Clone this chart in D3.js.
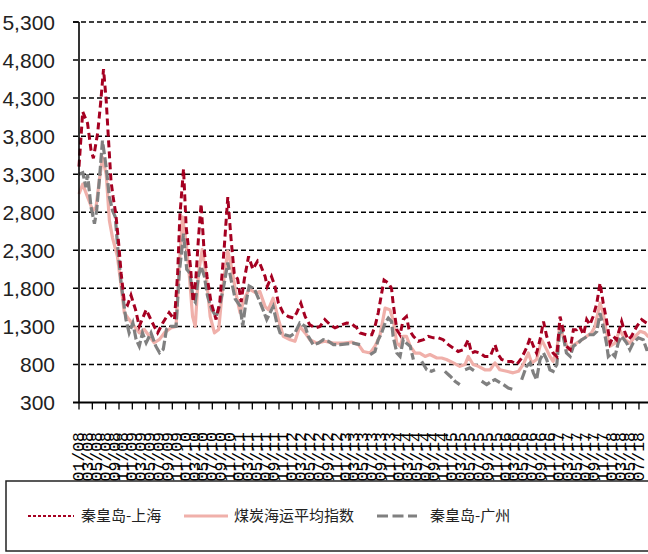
<!DOCTYPE html>
<meta charset="utf-8">
<style>
body { margin: 0; background: #fff; }
svg { display: block; }
</style>
<script src="https://d3js.org/d3.v7.min.js"></script>
<div id="chart"></div>
<script>
// y axis ticks
var yTicks = [300, 800, 1300, 1800, 2300, 2800, 3300, 3800, 4300, 4800, 5300];

// category labels, every two months (mm/yy)
var monthLabels = [
  "01/08","03/08","05/08","07/08","09/08","11/08",
  "01/09","03/09","05/09","07/09","09/09","11/09",
  "01/10","03/10","05/10","07/10","09/10","11/10",
  "01/11","03/11","05/11","07/11","09/11","11/11",
  "01/12","03/12","05/12","07/12","09/12","11/12",
  "01/13","03/13","05/13","07/13","09/13","11/13",
  "01/14","03/14","05/14","07/14","09/14","11/14",
  "01/15","03/15","05/15","07/15","09/15","11/15",
  "01/16","03/16","05/16","07/16","09/16","11/16",
  "01/17","03/17","05/17","07/17","09/17","11/17",
  "01/18","03/18","05/18","07/18"
];

var seriesNames = ["秦皇岛-上海", "煤炭海运平均指数", "秦皇岛-广州"];

// [year, value]
var shanghai = [
  [2008.00,3400],[2008.07,4120],[2008.16,3970],[2008.225,3620],[2008.27,3510],[2008.35,3840],
  [2008.41,4270],[2008.46,4680],[2008.51,4270],[2008.55,3790],[2008.60,3210],[2008.64,3000],
  [2008.69,2780],[2008.74,2420],[2008.79,2000],[2008.85,1620],[2008.91,1580],[2008.975,1710],
  [2009.06,1520],[2009.13,1300],[2009.26,1520],[2009.32,1430],[2009.41,1300],[2009.475,1215],
  [2009.57,1345],[2009.69,1480],[2009.79,1390],[2009.85,2000],[2009.89,2740],[2009.96,3370],
  [2010.01,2600],[2010.05,2350],[2010.09,2090],[2010.14,1620],[2010.19,1920],[2010.24,2460],
  [2010.29,2910],[2010.34,2350],[2010.40,1960],[2010.475,1620],[2010.57,1390],[2010.64,1620],
  [2010.725,2350],[2010.79,3000],[2010.85,2460],[2010.91,2000],[2010.975,1920],[2011.04,1620],
  [2011.10,1920],[2011.18,2220],[2011.26,2050],[2011.35,2160],[2011.39,2130],[2011.49,1955],
  [2011.53,1825],[2011.61,1955],[2011.675,1825],[2011.74,1605],[2011.83,1475],[2011.925,1430],
  [2012.02,1410],[2012.08,1475],[2012.16,1605],[2012.24,1430],[2012.33,1320],[2012.43,1280],
  [2012.52,1300],[2012.61,1390],[2012.71,1320],[2012.80,1280],[2012.925,1320],[2013.02,1345],
  [2013.11,1335],[2013.21,1280],[2013.27,1215],[2013.39,1190],[2013.49,1190],[2013.55,1300],
  [2013.61,1475],[2013.675,1735],[2013.72,1910],[2013.80,1870],[2013.86,1800],[2013.89,1605],
  [2013.96,1255],[2014.02,1190],[2014.08,1390],[2014.14,1430],[2014.19,1255],[2014.27,1170],
  [2014.36,1105],[2014.46,1125],[2014.55,1170],[2014.645,1150],[2014.74,1150],[2014.83,1125],
  [2014.925,1060],[2015.02,1015],[2015.11,970],[2015.21,995],[2015.30,1125],[2015.36,950],
  [2015.425,970],[2015.52,950],[2015.61,905],[2015.71,905],[2015.80,1060],[2015.86,930],
  [2015.925,865],[2016.02,840],[2016.11,840],[2016.21,800],[2016.30,885],[2016.39,1015],
  [2016.46,1150],[2016.52,1040],[2016.58,950],[2016.645,1125],[2016.71,1365],[2016.77,1170],
  [2016.83,1040],[2016.89,950],[2016.96,905],[2017.02,1430],[2017.08,1255],[2017.14,1040],
  [2017.21,995],[2017.27,1255],[2017.33,1255],[2017.39,1300],[2017.46,1190],[2017.52,1390],
  [2017.58,1320],[2017.64,1430],[2017.71,1605],[2017.77,1870],[2017.83,1605],[2017.89,1390],
  [2017.96,1080],[2018.02,1170],[2018.08,1125],[2018.175,1365],[2018.24,1215],[2018.30,1125],
  [2018.36,1170],[2018.46,1300],[2018.55,1390],[2018.64,1345],[2018.72,1310]
];

var average = [
  [2008.00,3040],[2008.07,3170],[2008.16,3000],[2008.26,2820],[2008.32,2870],[2008.38,3210],
  [2008.44,3520],[2008.51,3300],[2008.57,2690],[2008.63,2460],[2008.72,2220],[2008.79,1830],
  [2008.85,1480],[2008.94,1390],[2009.04,1300],[2009.13,1215],[2009.225,1260],[2009.32,1170],
  [2009.41,1085],[2009.51,1130],[2009.60,1215],[2009.72,1280],[2009.82,1300],[2009.88,2090],
  [2009.94,2740],[2010.01,2400],[2010.07,1960],[2010.13,1430],[2010.18,1300],[2010.24,2000],
  [2010.31,2310],[2010.38,2000],[2010.46,1430],[2010.54,1215],[2010.62,1260],[2010.69,1790],
  [2010.79,2290],[2010.87,2050],[2010.94,1740],[2011.02,1480],[2011.10,1660],[2011.19,1790],
  [2011.32,1740],[2011.39,1760],[2011.49,1560],[2011.55,1520],[2011.64,1670],[2011.74,1390],
  [2011.83,1170],[2011.96,1125],[2012.05,1105],[2012.14,1300],[2012.24,1215],[2012.33,1125],
  [2012.46,1080],[2012.61,1105],[2012.77,1080],[2012.96,1080],[2013.11,1095],[2013.24,1060],
  [2013.33,970],[2013.46,950],[2013.55,1040],[2013.64,1170],[2013.74,1540],[2013.83,1520],
  [2013.89,1390],[2013.96,1080],[2014.02,1040],[2014.08,1170],[2014.14,1170],[2014.21,1040],
  [2014.30,950],[2014.39,950],[2014.49,905],[2014.58,930],[2014.71,885],[2014.80,885],
  [2014.89,865],[2015.02,820],[2015.14,775],[2015.24,800],[2015.30,905],[2015.39,800],
  [2015.49,775],[2015.61,730],[2015.71,730],[2015.80,820],[2015.89,730],[2016.02,710],
  [2016.14,690],[2016.24,710],[2016.33,800],[2016.425,950],[2016.49,820],[2016.58,865],
  [2016.675,1125],[2016.77,995],[2016.83,905],[2016.89,840],[2016.96,995],[2017.01,1280],
  [2017.08,1170],[2017.175,995],[2017.24,1040],[2017.33,1080],[2017.43,1125],[2017.52,1170],
  [2017.61,1215],[2017.675,1300],[2017.77,1605],[2017.83,1475],[2017.89,1215],[2017.96,1040],
  [2018.05,1080],[2018.14,1255],[2018.24,1125],[2018.33,1080],[2018.43,1170],[2018.52,1235],
  [2018.61,1215],[2018.67,1170],[2018.72,1150]
];

// null = no quote that week
var guangzhou = [
  [2008.00,3300],[2008.07,3320],[2008.13,3130],[2008.16,3300],[2008.225,2870],[2008.29,2650],
  [2008.33,2820],[2008.38,3210],[2008.44,3740],[2008.51,3390],[2008.57,3000],[2008.63,2820],
  [2008.68,2740],[2008.725,2350],[2008.79,1870],[2008.88,1390],[2008.94,1215],[2009.01,1345],
  [2009.07,1130],[2009.13,1040],[2009.19,1215],[2009.26,1085],[2009.35,1215],[2009.44,1040],
  [2009.51,955],[2009.58,1000],[2009.64,1260],[2009.72,1300],[2009.82,1300],[2009.88,2000],
  [2009.96,2520],[2010.02,2050],[2010.08,2000],[2010.14,1660],[2010.18,1620],[2010.24,1960],
  [2010.29,2090],[2010.35,1960],[2010.41,1700],[2010.49,1520],[2010.57,1430],[2010.64,1570],
  [2010.725,1870],[2010.79,2140],[2010.85,1920],[2010.93,1660],[2011.02,1570],[2011.07,1300],
  [2011.12,1570],[2011.19,1830],[2011.29,1790],[2011.37,1660],[2011.45,1520],[2011.52,1390],
  [2011.58,1475],[2011.64,1560],[2011.71,1345],[2011.77,1215],[2011.86,1190],[2011.96,1170],
  [2012.05,1215],[2012.14,1345],[2012.24,1300],[2012.30,1170],[2012.39,1060],[2012.49,1080],
  [2012.58,1125],[2012.675,1105],[2012.77,1060],[2012.895,1060],[2013.02,1070],[2013.14,1080],
  [2013.27,1060],[2013.36,null],[2013.46,930],[2013.55,970],[2013.61,1125],[2013.675,1215],
  [2013.74,1345],[2013.80,1410],[2013.86,1365],[2013.89,1170],[2013.96,950],[2014.02,905],
  [2014.08,1125],[2014.14,1080],[2014.21,1040],[2014.27,865],[2014.35,null],[2014.425,840],
  [2014.52,730],[2014.61,710],[2014.675,730],[2014.77,null],[2014.86,710],[2014.96,645],
  [2015.05,580],[2015.14,535],[2015.19,null],[2015.24,730],[2015.33,755],[2015.425,710],
  [2015.49,null],[2015.55,580],[2015.645,535],[2015.74,580],[2015.80,600],[2015.894,560],
  [2015.93,null],[2015.96,535],[2016.05,490],[2016.14,470],[2016.22,null],[2016.30,600],
  [2016.39,775],[2016.46,820],[2016.52,690],[2016.58,600],[2016.645,865],[2016.71,950],
  [2016.77,865],[2016.83,730],[2016.89,710],[2016.96,800],[2017.02,1300],[2017.08,1170],
  [2017.14,950],[2017.21,905],[2017.27,1040],[2017.36,1080],[2017.425,1125],[2017.49,1150],
  [2017.55,1190],[2017.645,1190],[2017.71,1235],[2017.77,1475],[2017.83,1300],[2017.89,1080],
  [2017.925,905],[2017.99,950],[2018.05,905],[2018.11,1080],[2018.175,1170],[2018.27,1080],
  [2018.33,995],[2018.39,1080],[2018.49,1150],[2018.58,1125],[2018.645,995],[2018.70,1000]
];

var W = 648, H = 554;
var plot = {left: 79, top: 22, bottom: 402.5};
var pxPerYear = 53.33;

var svg = d3.select("#chart").append("svg")
    .attr("width", W)
    .attr("height", H);

var y = d3.scaleLinear().domain([300, 5300]).range([plot.bottom, plot.top]);
var x = d3.scaleLinear()
    .domain([2008, 2019])
    .range([plot.left, plot.left + 11 * pxPerYear]);

// horizontal dashed grid
svg.append("g").selectAll("line")
    .data(yTicks.slice(1))
    .enter().append("line")
    .attr("x1", 73).attr("x2", W)
    .attr("y1", function(d) { return y(d); })
    .attr("y2", function(d) { return y(d); })
    .attr("stroke", "#000")
    .attr("stroke-width", 1.5)
    .attr("stroke-dasharray", "5,3");

// y axis labels
svg.append("g").selectAll("text")
    .data(yTicks)
    .enter().append("text")
    .attr("x", 55)
    .attr("y", function(d) { return y(d); })
    .attr("dy", "0.36em")
    .attr("text-anchor", "end")
    .style("font-family", "'Liberation Sans Narrow', 'Arial Narrow', 'Liberation Sans', sans-serif")
    .style("font-size", "21px")
    .attr("fill", "#222")
    .text(d3.format(","));

// lines
function lineFor(data) {
  return d3.line()
    .defined(function(d) { return d[1] != null; })
    .x(function(d) { return x(d[0]); })
    .y(function(d) { return y(d[1]); })(data);
}

svg.append("path")
    .attr("d", lineFor(average))
    .attr("fill", "none")
    .attr("stroke", "#f0b0aa")
    .attr("stroke-width", 3.2)
    .attr("stroke-linejoin", "round");

svg.append("path")
    .attr("d", lineFor(guangzhou))
    .attr("fill", "none")
    .attr("stroke", "#808080")
    .attr("stroke-width", 3.2)
    .attr("stroke-dasharray", "10,3");

svg.append("path")
    .attr("d", lineFor(shanghai))
    .attr("fill", "none")
    .attr("stroke", "#a50021")
    .attr("stroke-width", 3)
    .attr("stroke-dasharray", "7,4");

// axes lines
svg.append("line")
    .attr("x1", plot.left).attr("x2", plot.left)
    .attr("y1", plot.top).attr("y2", plot.bottom)
    .attr("stroke", "#000").attr("stroke-width", 1.6);
svg.append("line")
    .attr("x1", 73).attr("x2", plot.left)
    .attr("y1", y(5300)).attr("y2", y(5300))
    .attr("stroke", "#000").attr("stroke-width", 1.5);
svg.append("line")
    .attr("x1", 73).attr("x2", W)
    .attr("y1", plot.bottom).attr("y2", plot.bottom)
    .attr("stroke", "#000").attr("stroke-width", 1.8);

// quarterly tick marks
var xg = svg.append("g");
xg.selectAll("line")
    .data(d3.range(2008, 2019, 0.25))
    .enter().append("line")
    .attr("x1", function(d) { return x(d); })
    .attr("x2", function(d) { return x(d); })
    .attr("y1", plot.bottom).attr("y2", plot.bottom + 7)
    .attr("stroke", "#000").attr("stroke-width", 1.3);

// rotated bimonthly labels
xg.selectAll("text")
    .data(monthLabels)
    .enter().append("text")
    .attr("transform", function(d, i) {
      return "translate(" + (x(2008 + i / 6) - 1) + ",432) rotate(-90)";
    })
    .attr("dy", "0.36em")
    .attr("text-anchor", "end")
    .style("font-family", "'Liberation Mono', 'DejaVu Sans Mono', monospace")
    .style("font-size", "16.5px")
    .attr("fill", "#000")
    .text(function(d) { return d; });

// legend
var lg = svg.append("g");
lg.append("rect")
    .attr("x", 6).attr("y", 481)
    .attr("width", 700).attr("height", 70)
    .attr("fill", "#fff")
    .attr("stroke", "#222")
    .attr("stroke-width", 1.5);

var legendItems = [
  {name: seriesNames[0], x1: 28, x2: 74, tx: 81, color: "#a50021", w: 2, dash: "3,2"},
  {name: seriesNames[1], x1: 184, x2: 228, tx: 234, color: "#f0b0aa", w: 3, dash: null},
  {name: seriesNames[2], x1: 377, x2: 417, tx: 430, color: "#808080", w: 3, dash: "11,4.5"}
];

legendItems.forEach(function(it) {
  lg.append("line")
    .attr("x1", it.x1).attr("x2", it.x2)
    .attr("y1", 516).attr("y2", 516)
    .attr("stroke", it.color)
    .attr("stroke-width", it.w)
    .attr("stroke-dasharray", it.dash);
  lg.append("text")
    .attr("x", it.tx).attr("y", 516)
    .attr("dy", "0.36em")
    .style("font-family", "'Noto Sans CJK SC', sans-serif")
    .style("font-size", "15px")
    .attr("fill", "#222")
    .text(it.name);
});
</script>
